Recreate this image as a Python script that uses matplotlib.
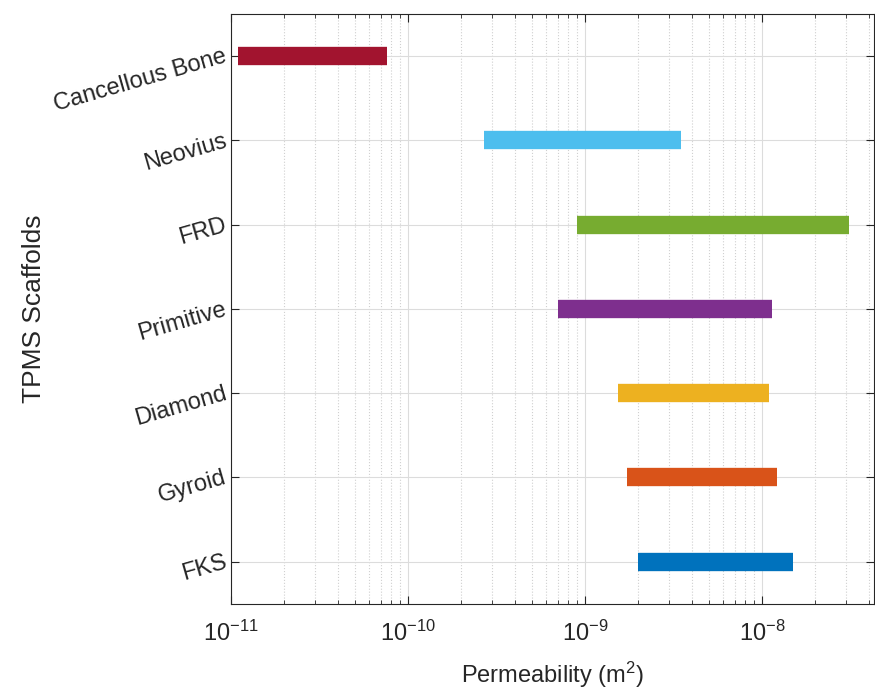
import numpy as np
import matplotlib.pyplot as plt

# scaffold names, bottom to top
scaffolds = ['FKS', 'Gyroid', 'Diamond', 'Primitive', 'FRD', 'Neovius', 'Cancellous Bone']
k_min = [2.0e-9, 1.73e-9, 1.54e-9, 7.0e-10, 9.0e-10, 2.69e-10, 1.1e-11]
k_max = [1.5e-8, 1.22e-8, 1.1e-8, 1.14e-8, 3.1e-8, 3.5e-9, 7.6e-11]
colors = ['#0072BD', '#D95319', '#EDB120', '#7E2F8E', '#77AC30', '#4DBEEE', '#A2142F']

plt.rcParams.update({
    'font.family': ['Liberation Sans', 'DejaVu Sans'],
    'font.size': 17,
    'mathtext.fontset': 'custom',
    'mathtext.rm': 'Liberation Sans',
    'mathtext.it': 'Liberation Sans',
})

fig = plt.figure(figsize=(8.75, 6.91), dpi=100)
ax = fig.add_axes([0.264, 0.126, 0.735, 0.854])

y = np.arange(1, len(scaffolds) + 1)
for i in range(len(scaffolds)):
    ax.plot([k_min[i], k_max[i]], [y[i], y[i]], '-', color=colors[i],
            linewidth=13.2, solid_capstyle='butt', zorder=3)

ax.set_xscale('log')
ax.set_xlim(1e-11, 4.3e-8)
ax.set_ylim(0.5, len(scaffolds) + 0.5)
ax.set_yticks(y)
ax.set_yticklabels(scaffolds, rotation=16, ha='right', va='center',
                   rotation_mode='anchor', color='#262626')

ax.grid(True, which='major', color='#dcdcdc', linewidth=0.8)
ax.grid(True, which='minor', axis='x', color='#d0d0d0', linestyle=':', linewidth=0.8)
ax.set_axisbelow(True)
ax.tick_params(which='both', direction='in', top=True, right=True, color='#262626')
ax.tick_params(which='major', length=6)
ax.tick_params(which='minor', length=3)
ax.tick_params(axis='x', pad=12, labelcolor='#262626')
for s in ax.spines.values():
    s.set_color('#262626')

ax.set_xlabel('Permeability (m$^2$)', color='#262626', labelpad=10)
ax.set_ylabel('TPMS Scaffolds', color='#262626', fontsize=19, labelpad=4)

fig.savefig('out.png', dpi=100)
